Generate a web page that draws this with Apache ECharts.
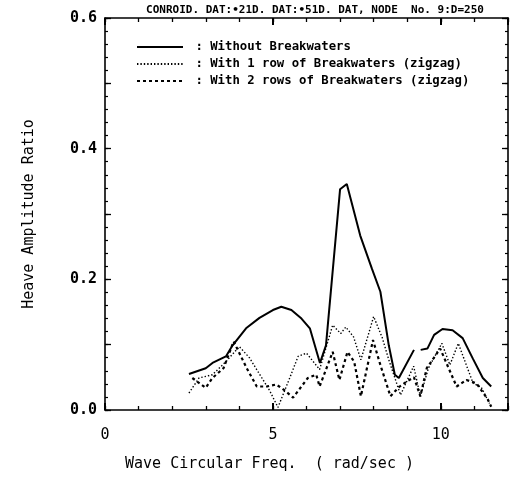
<!DOCTYPE html>
<html><head><meta charset="utf-8">
<script src="https://cdn.jsdelivr.net/npm/echarts@6/dist/echarts.min.js"></script>
<style>html,body{margin:0;padding:0;background:#fff}#c{width:511px;height:477px}</style>
</head><body><div id="c"></div>
<script>
const titleText = 'CONROID. DAT:•21D. DAT:•51D. DAT, NODE  No. 9:D=250';
const seriesNames = ['Without Breakwaters', 'With 1 row of Breakwaters (zigzag)', 'With 2 rows of Breakwaters (zigzag)'];
const xTickLabels = [0, 5, 10];
const yTickLabels = [0.0, 0.2, 0.4, 0.6];

const freqSolid = [2.5, 3.0, 3.2, 3.6, 3.8, 4.2, 4.6, 5.0, 5.25, 5.55, 5.85, 6.1, 6.4, 6.58, 7.0, 7.2, 7.6, 7.95, 8.2, 8.45, 8.63, 8.75, 9.2, 9.3, 9.4, 9.6, 9.8, 10.05, 10.35, 10.65, 10.95, 11.25, 11.5];
const withoutBW = [0.055, 0.064, 0.072, 0.082, 0.099, 0.125, 0.141, 0.153, 0.158, 0.153, 0.140, 0.125, 0.072, 0.099, 0.338, 0.346, 0.267, 0.216, 0.181, 0.099, 0.054, 0.049, 0.092, null, 0.092, 0.094, 0.115, 0.124, 0.122, 0.110, 0.079, 0.049, 0.036];

const freqOne = [2.5, 2.8, 3.2, 3.6, 4.0, 4.3, 4.6, 4.9, 5.15, 5.5, 5.75, 6.0, 6.39, 6.78, 7.02, 7.17, 7.4, 7.62, 8.0, 8.26, 8.45, 8.8, 9.19, 9.39, 9.63, 10.03, 10.27, 10.52, 10.96, 11.2, 11.45];
const oneRow = [0.026, 0.049, 0.054, 0.074, 0.097, 0.080, 0.055, 0.030, 0.004, 0.049, 0.082, 0.087, 0.062, 0.130, 0.117, 0.127, 0.112, 0.077, 0.143, 0.110, 0.077, 0.023, 0.067, 0.021, 0.064, 0.102, 0.069, 0.102, 0.041, 0.035, 0.010];

const freqTwo = [2.6, 3.0, 3.2, 3.53, 3.83, 4.22, 4.52, 4.81, 5.1, 5.35, 5.6, 6.04, 6.29, 6.39, 6.78, 6.98, 7.22, 7.42, 7.62, 7.98, 8.2, 8.5, 8.75, 9.0, 9.2, 9.39, 9.58, 9.98, 10.47, 10.76, 11.06, 11.4, 11.5];
const twoRows = [0.049, 0.034, 0.049, 0.064, 0.105, 0.064, 0.036, 0.036, 0.039, 0.030, 0.019, 0.049, 0.054, 0.036, 0.089, 0.046, 0.089, 0.074, 0.021, 0.107, 0.069, 0.021, 0.035, 0.044, 0.050, 0.021, 0.064, 0.094, 0.036, 0.046, 0.041, 0.016, 0.005];

function pairs(xs, ys){ return xs.map((x,i)=>[x, ys[i]==null ? '-' : ys[i]]); }

const mono = 'DejaVu Sans Mono';
const chart = echarts.init(document.getElementById('c'), null, {renderer:'canvas'});
const axLine = {show:true, onZero:false, lineStyle:{color:'#000', width:1.6}};
const noLine = {show:false, onZero:false};
const tickAxis = (type, pos, interval, len, w, line) => ({
  type:'value', position:pos, min:0, max: type==='x' ? 12 : 0.6, interval:interval,
  axisLine: line ? axLine : noLine, splitLine:{show:false}, axisLabel:{show:false},
  axisTick:{show:true, inside:true, length:len, lineStyle:{color:'#000', width:w}}
});
chart.setOption({
  animation:false,
  backgroundColor:'#fff',
  title:{text:titleText, left:310, top:0, textAlign:'center',
    textStyle:{fontFamily:mono, fontSize:11, fontWeight:'bold', color:'#000'}},
  legend:{
    left:131, top:36, orient:'vertical', itemWidth:46, itemHeight:10, itemGap:5,
    formatter: n => ' : ' + n,
    itemStyle:{color:'rgba(0,0,0,0)', borderWidth:0},
    textStyle:{fontFamily:mono, fontSize:12.3, fontWeight:'bold', color:'#000'},
    data: seriesNames
  },
  grid:{left:105, right:0, top:18, bottom:65, containLabel:false},
  xAxis:[
    {type:'value', position:'bottom', min:0, max:12, interval:1,
     name:'Wave Circular Freq.  ( rad/sec )', nameLocation:'middle', nameGap:47,
     nameTextStyle:{fontFamily:mono, fontSize:15, color:'#000', padding:[0,74,0,0]},
     axisLine:axLine, splitLine:{show:false},
     axisTick:{show:true, inside:true, length:4, lineStyle:{color:'#000', width:1.3}},
     axisLabel:{show:true, margin:18, fontFamily:mono, fontSize:15, color:'#000',
       formatter:v => xTickLabels.includes(v) ? String(v) : ''}},
    tickAxis('x', 'bottom', 5, 7, 2, false),
    tickAxis('x', 'top', 1, 4, 1.3, true),
    tickAxis('x', 'top', 5, 7, 2, false)
  ],
  yAxis:[
    {type:'value', position:'left', min:0, max:0.6, interval:0.1,
     name:'Heave Amplitude Ratio', nameLocation:'middle', nameGap:68, nameRotate:90,
     nameTextStyle:{fontFamily:mono, fontSize:15, color:'#000'},
     axisLine:axLine, splitLine:{show:false},
     axisTick:{show:true, inside:true, length:6, lineStyle:{color:'#000', width:1.3}},
     axisLabel:{show:true, margin:8, fontFamily:mono, fontSize:15, fontWeight:'bold', color:'#000',
       formatter:v => { const m = yTickLabels.find(t => Math.abs(t-v)<1e-6); return m===undefined ? '' : m.toFixed(1); }}},
    tickAxis('y', 'left', 0.02, 3, 1.2, false),
    tickAxis('y', 'right', 0.1, 6, 1.3, true),
    tickAxis('y', 'right', 0.02, 3, 1.2, false)
  ],
  series:[
    {name:seriesNames[0], type:'line', xAxisIndex:0, yAxisIndex:0, showSymbol:false, symbol:'none',
     connectNulls:false, data:pairs(freqSolid, withoutBW), lineStyle:{color:'#000', width:2}, itemStyle:{color:'#000'}},
    {name:seriesNames[1], type:'line', xAxisIndex:0, yAxisIndex:0, showSymbol:false, symbol:'none',
     data:pairs(freqOne, oneRow), lineStyle:{color:'#000', width:1.4, type:[1.4,2]}, itemStyle:{color:'#000'}},
    {name:seriesNames[2], type:'line', xAxisIndex:0, yAxisIndex:0, showSymbol:false, symbol:'none',
     data:pairs(freqTwo, twoRows), lineStyle:{color:'#000', width:2.2, type:[3,3]}, itemStyle:{color:'#000'}}
  ]
});
</script></body></html>
